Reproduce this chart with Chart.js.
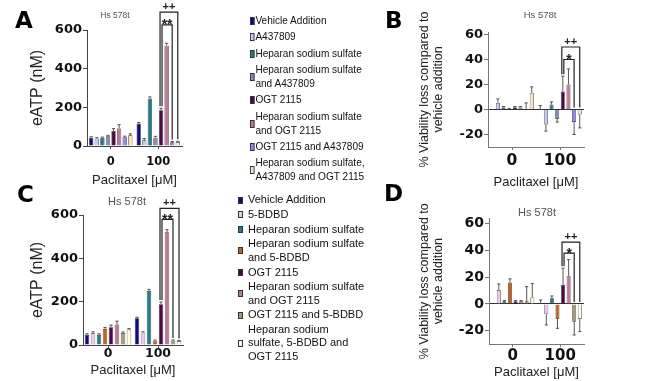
<!DOCTYPE html>
<html><head><meta charset="utf-8">
<script src="https://cdn.jsdelivr.net/npm/chart.js@4.4.1/dist/chart.umd.min.js"></script>
<style>
body{margin:0;background:#fff;width:669px;height:381px;overflow:hidden;position:relative;font-family:"Liberation Sans",Arial,sans-serif;}
canvas{position:absolute;}
.letter{position:absolute;font-family:"DejaVu Sans";font-weight:bold;font-size:23px;line-height:23px;color:#000;}
.ctitle{position:absolute;color:#555;white-space:nowrap;transform:translate(-50%,-50%);line-height:1;}
.legend{position:absolute;color:#111;transform-origin:left top;}
.item{display:flex;align-items:center;}
.sw{border:1px solid #333;box-sizing:border-box;flex:none;}
.tx{white-space:pre;}
</style></head><body>
<canvas id="cA" width="230" height="190" style="left:0;top:0"></canvas>
<canvas id="cB" width="289" height="190" style="left:380px;top:0"></canvas>
<canvas id="cC" width="230" height="196" style="left:0;top:185px"></canvas>
<canvas id="cD" width="289" height="196" style="left:380px;top:185px"></canvas>
<div class="letter" style="left:15px;top:9px">A</div>
<div class="letter" style="left:385px;top:9px">B</div>
<div class="letter" style="left:17px;top:183px">C</div>
<div class="letter" style="left:384px;top:182px">D</div>
<div class="ctitle" style="left:115px;top:15px;font-size:8.5px">Hs 578t</div>
<div class="ctitle" style="left:540px;top:15px;font-size:9.5px">Hs 578t</div>
<div class="ctitle" style="left:127px;top:201px;font-size:11px">Hs 578t</div>
<div class="ctitle" style="left:537px;top:212px;font-size:11px">Hs 578t</div>
<div id="legA" class="legend"></div>
<div id="legC" class="legend"></div>
<script>
// ---------------- data ----------------
const doses = ['0', '100'];
const aLabels = ['Vehicle Addition', 'A437809', 'Heparan sodium sulfate', 'Heparan sodium sulfate\nand A437809', 'OGT 2115', 'Heparan sodium sulfate\nand OGT 2115', 'OGT 2115 and A437809', 'Heparan sodium sulfate,\nA437809 and OGT 2115'];
const cLabels = ['Vehicle Addition', '5-BDBD', 'Heparan sodium sulfate', 'Heparan sodium sulfate\nand 5-BDBD', 'OGT 2115', 'Heparan sodium sulfate\nand OGT 2115', 'OGT 2115 and 5-BDBD', 'Heparan sodium\nsulfate, 5-BDBD and\nOGT 2115'];

const aEatp0 = [43, 38, 42, 50, 78, 90, 47, 55];
const aEatp0Err = [5, 5, 4, 5, 12, 20, 4, 8];
const aEatp100 = [116, 30, 246, 43, 185, 519, 19, 21];
const aEatp100Err = [6, 8, 8, 7, 10, 12, 4, 3];

const cEatp0 = [46, 54, 46, 74, 82, 95, 55, 71];
const cEatp0Err = [6, 7, 6, 7, 10, 15, 5, 5];
const cEatp100 = [123, 57, 249, 20, 188, 520, 20, 18];
const cEatp100Err = [5, 4, 8, 3, 10, 12, 3, 3];

const bLoss0 = [0, 5.3, 1.9, 0.4, 1.9, 1.9, 0.5, 13.3];
const bLoss0Err = [0, 3.2, 0.5, 0.5, 0.5, 0.5, 4.8, 4.8];
const bLoss100 = [0, -12, 4, -7.5, 14.4, 20, -9.9, -4];
const bLoss100Err = [3.2, 5.3, 2.1, 2.6, 12.3, 12.5, 10.1, 10.7];

const dLoss0 = [0, 10.5, 2, 16, 2, 2, 2, 4.75];
const dLoss0Err = [0, 4.5, 0.5, 2.8, 0.5, 0.5, 11, 10.5];
const dLoss100 = [0, -7.75, 4.25, -11.25, 14.25, 21, -13.25, -11.25];
const dLoss100Err = [3, 8, 1.75, 7, 12.5, 12.25, 10, 9.5];

const eatpTicks = [0, 200, 400, 600];
const lossTicks = [-20, 0, 20, 40, 60];

// significance brackets: dataset indices in the 100 µM group, bracket level in axis units
const aSig = [{from: 4, to: 6, level: 626, label: '**'}, {from: 4, to: 7, level: 692, label: '++'}];
const cSig = [{from: 4, to: 6, level: 580, label: '**'}, {from: 4, to: 7, level: 631, label: '++'}];
const bSig = [{from: 4, to: 6, level: 40, label: '*'}, {from: 4, to: 7, level: 50, label: '++'}];
const dSig = [{from: 4, to: 6, level: 38, label: '*'}, {from: 4, to: 7, level: 46.25, label: '++'}];

// ---------------- styles ----------------
const aColors = ['#0d0d7d', '#c9c9f5', '#237d87', '#8a8abf', '#4a0a48', '#c07898', '#8a8af0', '#fde0c8'];
const cColors = ['#0d0d7d', '#efc8f0', '#237d87', '#c0641e', '#4a0a48', '#c07898', '#a39e78', '#fdfde0'];

// ---------------- plugins ----------------
const errPlugin = {
  id: 'errbars',
  afterDatasetsDraw(chart, args, opts) {
    const ctx = chart.ctx, ys = chart.scales.y;
    ctx.save();
    ctx.strokeStyle = '#444'; ctx.lineWidth = 0.9;
    chart.data.datasets.forEach((ds, di) => {
      chart.getDatasetMeta(di).data.forEach((bar, j) => {
        const v = ds.data[j], e = opts.errs[j][di];
        if (!e) return;
        const dir = v < 0 ? -1 : 1;
        const y0 = ys.getPixelForValue(v), y1 = ys.getPixelForValue(v + dir * e);
        ctx.beginPath();
        ctx.moveTo(bar.x, y0); ctx.lineTo(bar.x, y1);
        ctx.moveTo(bar.x - 1.6, y1); ctx.lineTo(bar.x + 1.6, y1);
        ctx.stroke();
      });
    });
    ctx.restore();
  }
};
const sigPlugin = {
  id: 'sig',
  afterDraw(chart, args, opts) {
    const ctx = chart.ctx, ys = chart.scales.y;
    const errs = chart.options.plugins.errbars.errs;
    ctx.save();
    ctx.strokeStyle = '#222'; ctx.lineWidth = 1.2; ctx.fillStyle = '#222';
    const legEnd = (di) => {
      const v = chart.data.datasets[di].data[1], e = errs[1][di];
      return ys.getPixelForValue(v >= 0 ? v + e : 0) - 2;
    };
    opts.items.forEach((b, k) => {
      const m1 = chart.getDatasetMeta(b.from).data[1], m2 = chart.getDatasetMeta(b.to).data[1];
      const x1 = m1.x + (k === 0 ? 1 : -1), x2 = m2.x;
      const top = ys.getPixelForValue(b.level);
      ctx.beginPath();
      ctx.moveTo(x1, legEnd(b.from)); ctx.lineTo(x1, top); ctx.lineTo(x2, top); ctx.lineTo(x2, legEnd(b.to));
      ctx.stroke();
      const star = b.label.indexOf('*') >= 0;
      const fs = star ? 14 : 11;
      ctx.font = 'bold ' + fs + 'px "Liberation Sans"';
      ctx.textAlign = 'center'; ctx.textBaseline = 'alphabetic';
      const by = star ? top + 0.43 * fs - 1.7 : top - 3 + 0.11 * fs;
      ctx.fillText(b.label, (x1 + x2) / 2, by);
    });
    ctx.restore();
  }
};

// ---------------- charts ----------------
function panel(id, c) {
  const datasets = c.colors.map((col, i) => ({
    data: [c.v0[i], c.v100[i]], backgroundColor: col, borderColor: '#333', borderWidth: 0.7
  }));
  new Chart(document.getElementById(id), {
    type: 'bar',
    data: {labels: doses, datasets: datasets},
    options: {
      responsive: false, animation: false, events: [],
      layout: {padding: c.pad},
      datasets: {bar: {categoryPercentage: c.cat, barPercentage: c.bar}},
      plugins: {legend: {display: false}, tooltip: {enabled: false},
        errbars: {errs: [c.e0, c.e100]}, sig: {items: c.sig}},
      scales: {
        x: {
          offset: true,
          grid: {offset: false, drawOnChartArea: false, drawTicks: true, tickLength: 3, tickColor: c.axis},
          border: {color: c.axis, width: 1},
          ticks: {font: {family: 'DejaVu Sans', weight: 'bold', size: c.xts}, color: '#111', padding: c.xtp, maxRotation: 0},
          title: {display: true, text: 'Paclitaxel [μM]', color: '#222',
            font: {family: 'Liberation Sans', size: 13, lineHeight: 1.2}, padding: {top: 0, bottom: c.xtip}},
          afterFit(s) { s.height = c.xH; }
        },
        y: {
          min: c.min, max: c.max,
          afterBuildTicks(s) { s.ticks = c.ticks.map(v => ({value: v})); },
          grid: {drawOnChartArea: c.zero, drawTicks: true, tickLength: 4, tickColor: c.axis,
            color: (ctx) => (ctx.tick && ctx.tick.value === 0) ? '#333' : 'rgba(0,0,0,0)', lineWidth: 1},
          border: {color: c.axis, width: 1},
          ticks: {font: {family: 'DejaVu Sans', weight: 'bold', size: c.yts}, color: '#111', padding: 1},
          title: {display: true, text: c.ytitle, color: '#222',
            font: {family: 'Liberation Sans', size: c.ytfs, lineHeight: c.ytlh}, padding: {top: 0, bottom: 0}},
          afterFit(s) { s.width = c.yW; }
        }
      }
    },
    plugins: [errPlugin, sigPlugin]
  });
}

panel('cA', {colors: aColors, v0: aEatp0, v100: aEatp100, e0: aEatp0Err, e100: aEatp100Err, sig: aSig,
  pad: {left: 28, top: 30, right: 48, bottom: 0}, yW: 59, xH: 44, cat: 0.94, bar: 0.78,
  min: 0, max: 600, ticks: eatpTicks, zero: false, yts: 13, xts: 11.5, xtp: 6, xtip: 2, axis: '#444',
  ytitle: 'eATP (nM)', ytfs: 16, ytlh: 1.2});
panel('cC', {colors: cColors, v0: cEatp0, v100: cEatp100, e0: cEatp0Err, e100: cEatp100Err, sig: cSig,
  pad: {left: 28, top: 30, right: 47, bottom: 0}, yW: 55, xH: 36, cat: 0.96, bar: 0.75,
  min: 0, max: 600, ticks: eatpTicks, zero: false, yts: 13, xts: 12.5, xtp: -2, xtip: 3, axis: '#444',
  ytitle: 'eATP (nM)', ytfs: 16, ytlh: 1.2});
panel('cB', {colors: aColors, v0: bLoss0, v100: bLoss100, e0: bLoss0Err, e100: bLoss100Err, sig: bSig,
  pad: {left: 38, top: 32, right: 85, bottom: 0}, yW: 70, xH: 43, cat: 0.94, bar: 0.71,
  min: -30, max: 62, ticks: lossTicks, zero: true, yts: 13, xts: 15.5, xtp: 2, xtip: 0, axis: '#777',
  ytitle: ['% Viability loss compared to', 'vehicle addition'], ytfs: 12.5, ytlh: 1.12});
panel('cD', {colors: cColors, v0: dLoss0, v100: dLoss100, e0: dLoss0Err, e100: dLoss100Err, sig: dSig,
  pad: {left: 38, top: 33.5, right: 85, bottom: 0}, yW: 71, xH: 37, cat: 0.94, bar: 0.71,
  min: -30, max: 64, ticks: lossTicks, zero: true, yts: 14, xts: 15, xtp: 0, xtip: 1, axis: '#777',
  ytitle: ['% Viability loss compared to', 'vehicle addition'], ytfs: 12.5, ytlh: 1.12});

// ---------------- legends ----------------
function legend(id, labels, colors, st) {
  const el = document.getElementById(id);
  el.style.left = st.left + 'px'; el.style.top = st.top + 'px';
  el.style.fontSize = st.fs + 'px'; el.style.lineHeight = st.lh + 'px';
  el.style.transform = 'scaleX(' + st.sx + ')';
  labels.forEach((lab, i) => {
    const it = document.createElement('div'); it.className = 'item';
    it.style.marginBottom = st.gap + 'px';
    const sw = document.createElement('span'); sw.className = 'sw';
    sw.style.background = colors[i]; sw.style.width = st.sw + 'px'; sw.style.height = st.sh + 'px';
    sw.style.marginRight = st.sm + 'px';
    const tx = document.createElement('span'); tx.className = 'tx'; tx.textContent = lab;
    it.appendChild(sw); it.appendChild(tx); el.appendChild(it);
  });
}
legend('legA', aLabels, aColors, {left: 250, top: 13.9, fs: 11.2, lh: 13.6, sx: 0.9, gap: 2.9, sw: 5, sh: 8, sm: 1});
legend('legC', cLabels, cColors, {left: 238, top: 193.3, fs: 11, lh: 13.4, sx: 1, gap: 1.3, sw: 4.5, sh: 7, sm: 5.5});
</script>
</body></html>
